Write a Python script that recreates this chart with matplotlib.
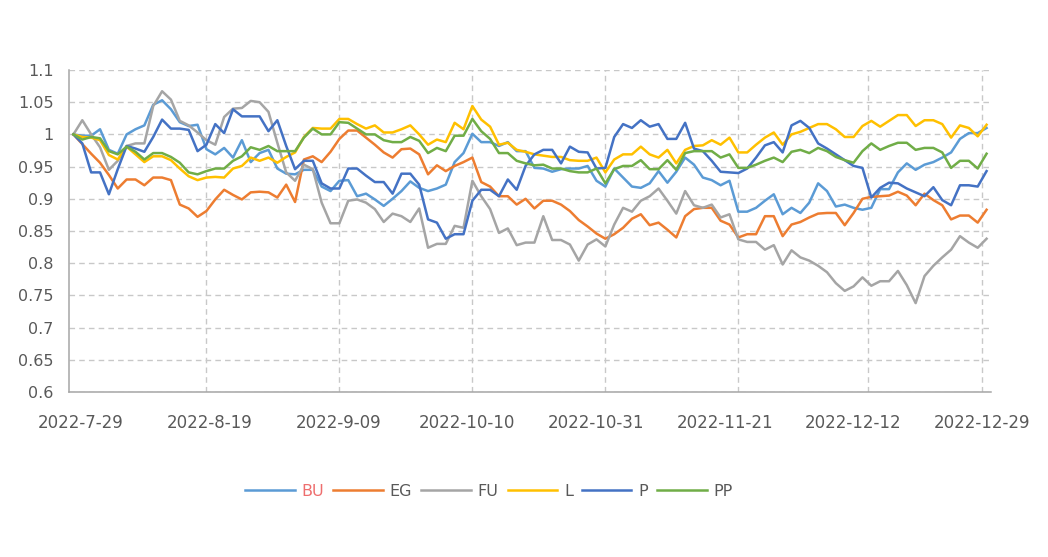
import numpy as np
import matplotlib
matplotlib.use("Agg")
import matplotlib.pyplot as plt

# trading days 2022-07-29 .. 2022-12-29 (104 sessions), x = session index
tick_labels = ["2022-7-29", "2022-8-19", "2022-9-09", "2022-10-10",
               "2022-10-31", "2022-11-21", "2022-12-12", "2022-12-29"]

BU = [1.000, 0.998, 0.998, 1.008, 0.976, 0.970, 1.000, 1.008, 1.014, 1.046,
      1.053, 1.039, 1.019, 1.013, 1.015, 0.977, 0.969, 0.979, 0.964, 0.991,
      0.957, 0.971, 0.976, 0.947, 0.939, 0.938, 0.945, 0.945, 0.919, 0.912,
      0.928, 0.929, 0.904, 0.908, 0.899, 0.889, 0.900, 0.912, 0.927, 0.917,
      0.912, 0.916, 0.922, 0.957, 0.971, 1.001, 0.988, 0.988, 0.982, 0.988,
      0.974, 0.974, 0.948, 0.947, 0.942, 0.946, 0.947, 0.947, 0.951, 0.928,
      0.919, 0.947, 0.933, 0.919, 0.917, 0.924, 0.943, 0.925, 0.942, 0.964,
      0.953, 0.933, 0.929, 0.921, 0.928, 0.880, 0.880, 0.886, 0.897, 0.907,
      0.876, 0.886, 0.878, 0.894, 0.924, 0.912, 0.888, 0.891, 0.886, 0.883,
      0.886, 0.915, 0.915, 0.941, 0.955, 0.945, 0.953, 0.957, 0.964, 0.972,
      0.993, 1.002, 1.002, 1.010]
EG = [1.000, 0.985, 0.970, 0.956, 0.937, 0.916, 0.930, 0.930, 0.921, 0.933,
      0.933, 0.929, 0.891, 0.885, 0.872, 0.881, 0.899, 0.914, 0.906, 0.899,
      0.910, 0.911, 0.910, 0.902, 0.922, 0.895, 0.961, 0.966, 0.957, 0.973,
      0.993, 1.006, 1.006, 0.995, 0.984, 0.972, 0.964, 0.977, 0.978, 0.969,
      0.938, 0.952, 0.943, 0.951, 0.957, 0.964, 0.926, 0.919, 0.904, 0.904,
      0.891, 0.900, 0.885, 0.897, 0.897, 0.891, 0.881, 0.867, 0.857, 0.846,
      0.838, 0.845, 0.855, 0.869, 0.876, 0.859, 0.863, 0.852, 0.840, 0.873,
      0.884, 0.886, 0.886, 0.866, 0.860, 0.840, 0.845, 0.845, 0.873, 0.873,
      0.842, 0.860, 0.864, 0.871, 0.877, 0.878, 0.878, 0.859, 0.878, 0.900,
      0.903, 0.904, 0.905, 0.911, 0.905, 0.890, 0.908, 0.898, 0.890, 0.868,
      0.874, 0.874, 0.863, 0.883]
FU = [1.000, 1.022, 1.000, 0.980, 0.945, 0.959, 0.982, 0.986, 0.986, 1.044,
      1.067, 1.054, 1.021, 1.014, 1.003, 0.991, 0.984, 1.027, 1.040, 1.041,
      1.052, 1.050, 1.035, 0.987, 0.941, 0.928, 0.953, 0.946, 0.894, 0.862,
      0.862, 0.897, 0.899, 0.894, 0.884, 0.864, 0.877, 0.873, 0.864, 0.885,
      0.824, 0.830, 0.830, 0.858, 0.855, 0.928, 0.904, 0.884, 0.847, 0.854,
      0.828, 0.832, 0.832, 0.873, 0.836, 0.836, 0.829, 0.804, 0.829, 0.837,
      0.826, 0.860, 0.886, 0.880, 0.897, 0.904, 0.916, 0.897, 0.877, 0.912,
      0.890, 0.886, 0.891, 0.871, 0.876, 0.837, 0.833, 0.833, 0.821, 0.828,
      0.798, 0.820, 0.809, 0.804, 0.796, 0.786, 0.769, 0.757, 0.764, 0.778,
      0.765, 0.772, 0.772, 0.788, 0.766, 0.738, 0.780, 0.796, 0.809, 0.821,
      0.842, 0.832, 0.824, 0.838]
L = [1.000, 0.996, 0.995, 0.991, 0.968, 0.961, 0.981, 0.969, 0.957, 0.966,
     0.966, 0.960, 0.947, 0.935, 0.929, 0.933, 0.934, 0.933, 0.947, 0.951,
     0.964, 0.959, 0.964, 0.956, 0.965, 0.972, 0.996, 1.010, 1.009, 1.009,
     1.024, 1.024, 1.016, 1.009, 1.014, 1.003, 1.003, 1.008, 1.014, 1.000,
     0.984, 0.992, 0.988, 1.018, 1.008, 1.044, 1.023, 1.012, 0.984, 0.987,
     0.976, 0.973, 0.969, 0.967, 0.965, 0.965, 0.960, 0.959, 0.959, 0.964,
     0.941, 0.961, 0.969, 0.969, 0.981, 0.969, 0.964, 0.976, 0.955, 0.976,
     0.982, 0.983, 0.991, 0.984, 0.995, 0.972, 0.972, 0.984, 0.995, 1.003,
     0.984, 1.000, 1.004, 1.010, 1.016, 1.016, 1.008, 0.996, 0.996, 1.013,
     1.021, 1.012, 1.021, 1.030, 1.030, 1.013, 1.022, 1.022, 1.016, 0.995,
     1.014, 1.010, 0.997, 1.015]
P = [1.000, 0.986, 0.941, 0.941, 0.907, 0.946, 0.982, 0.978, 0.973, 0.996,
     1.023, 1.009, 1.009, 1.007, 0.974, 0.984, 1.016, 1.002, 1.039, 1.028,
     1.028, 1.028, 1.005, 1.022, 0.982, 0.946, 0.959, 0.959, 0.924, 0.916,
     0.916, 0.947, 0.947, 0.936, 0.926, 0.926, 0.908, 0.939, 0.939, 0.922,
     0.868, 0.863, 0.838, 0.845, 0.845, 0.897, 0.914, 0.914, 0.904, 0.930,
     0.914, 0.951, 0.969, 0.976, 0.976, 0.955, 0.981, 0.973, 0.972, 0.947,
     0.948, 0.996, 1.016, 1.010, 1.022, 1.012, 1.016, 0.993, 0.993, 1.018,
     0.978, 0.974, 0.959, 0.942, 0.941, 0.940, 0.947, 0.964, 0.983, 0.988,
     0.972, 1.014, 1.021, 1.010, 0.986, 0.978, 0.969, 0.960, 0.951, 0.948,
     0.902, 0.917, 0.925, 0.924, 0.916, 0.910, 0.904, 0.918, 0.898, 0.890,
     0.921, 0.921, 0.919, 0.943]
PP = [1.000, 0.992, 0.996, 0.994, 0.974, 0.969, 0.981, 0.973, 0.961, 0.971,
      0.971, 0.965, 0.956, 0.941, 0.938, 0.943, 0.947, 0.947, 0.959, 0.966,
      0.980, 0.976, 0.982, 0.974, 0.974, 0.974, 0.995, 1.009, 1.000, 1.000,
      1.019, 1.018, 1.009, 1.000, 1.000, 0.991, 0.988, 0.988, 0.996, 0.990,
      0.971, 0.979, 0.974, 0.998, 0.998, 1.024, 1.005, 0.993, 0.971, 0.971,
      0.959, 0.955, 0.952, 0.953, 0.947, 0.947, 0.943, 0.941, 0.941, 0.947,
      0.924, 0.946, 0.951, 0.951, 0.960, 0.946, 0.946, 0.960, 0.945, 0.971,
      0.974, 0.974, 0.974, 0.964, 0.969, 0.948, 0.948, 0.953, 0.959, 0.964,
      0.957, 0.973, 0.976, 0.971, 0.979, 0.974, 0.965, 0.960, 0.956, 0.974,
      0.986, 0.976, 0.982, 0.987, 0.987, 0.976, 0.979, 0.979, 0.972, 0.948,
      0.959, 0.959, 0.947, 0.970]

series = ["BU", "EG", "FU", "L", "P", "PP"]
colors = ["#5B9BD5", "#ED7D31", "#A5A5A5", "#FFC000", "#4472C4", "#70AD47"]

x = np.arange(len(BU))
label_pos = np.linspace(0.86, 102.5, len(tick_labels))
vgrid_pos = [15, 30, 45, 60, 75, 89.6, 102.5]

txt = "#595959"
fig = plt.figure(figsize=(10.48, 5.57), dpi=100)
ax = fig.add_axes([69/1048, 165/557, 922/1048, 322/557])

for name, vals, c in zip(series, [BU, EG, FU, L, P, PP], colors):
    ax.plot(x, vals, color=c, lw=1.8, label=name, solid_joinstyle="round")

ax.set_xlim(-0.5, 103.5)
ax.set_ylim(0.6, 1.1)
ax.set_yticks(np.arange(0.6, 1.1001, 0.05))
ax.set_yticklabels(["0.6", "0.65", "0.7", "0.75", "0.8", "0.85", "0.9",
                    "0.95", "1", "1.05", "1.1"])
ax.set_xticks(label_pos)
ax.set_xticklabels(tick_labels)

grid_kw = dict(color="#c8c8c8", lw=1.0, linestyle=(0, (4, 3)), zorder=0)
ax.yaxis.grid(True, **grid_kw)
for p in vgrid_pos:
    ax.axvline(p, **grid_kw)
ax.set_axisbelow(True)

for s in ["top", "right"]:
    ax.spines[s].set_visible(False)
for s in ["left", "bottom"]:
    ax.spines[s].set_color("#a6a6a6")
    ax.spines[s].set_linewidth(1.1)

ax.tick_params(axis="y", length=0, pad=11, labelsize=11.5, labelcolor=txt)
ax.tick_params(axis="x", length=0, pad=16, labelsize=12, labelcolor=txt)

leg = fig.legend(loc="center", bbox_to_anchor=(489/1048, 1 - 491/557),
                 ncol=6, frameon=False, fontsize=11.5, handlelength=3.1,
                 handletextpad=0.45, columnspacing=0.55)
for t in leg.get_texts():
    t.set_color(txt)
leg.get_texts()[0].set_color("#EE6E6E")

fig.savefig("out.png", dpi=100)
